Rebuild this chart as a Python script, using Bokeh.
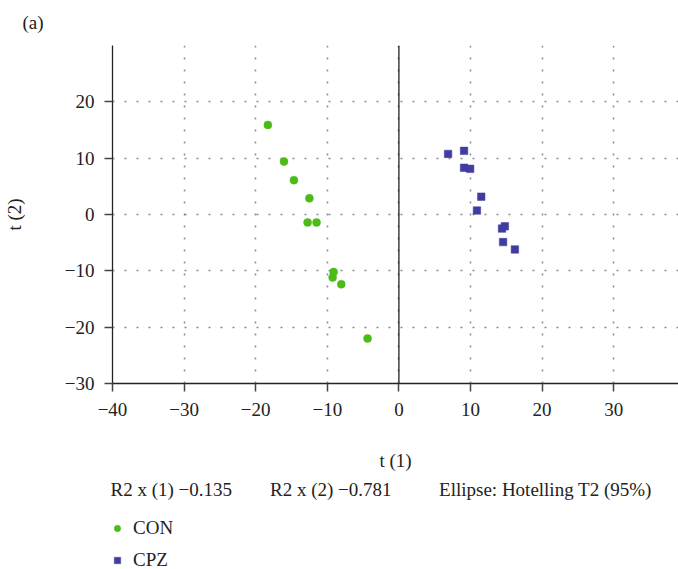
from bokeh.plotting import figure
from bokeh.layouts import column
from bokeh.models import (Range1d, FixedTicker, Span, Title, Legend, LegendItem)
from bokeh.embed import file_html
from bokeh.resources import INLINE

# Data
con_t1 = [-18.3, -16.05, -14.66, -12.5, -12.75, -11.5, -9.12, -9.26, -8.05, -4.38]
con_t2 = [15.9, 9.4, 6.1, 2.87, -1.41, -1.41, -10.2, -11.2, -12.4, -22.0]
cpz_t1 = [6.87, 9.1, 9.1, 9.95, 11.5, 10.9, 14.8, 14.4, 14.55, 16.2]
cpz_t2 = [10.76, 11.3, 8.3, 8.1, 3.17, 0.7, -2.1, -2.5, -4.9, -6.2]
x_ticks = [-40, -30, -20, -10, 0, 10, 20, 30]
y_ticks = [-30, -20, -10, 0, 10, 20]
stats = ["R2 x (1) \u22120.135", "R2 x (2) \u22120.781", "Ellipse: Hotelling T2 (95%)"]
groups = ["CON", "CPZ"]

FONT = "Liberation Serif"
FS = "19px"
GREEN = "#4cbb17"
BLUE = "#403ca0"
TXT = "#222222"

p = figure(width=678, height=515, output_backend="svg", toolbar_location=None,
           x_range=Range1d(-40, 39.05), y_range=Range1d(-30, 30),
           min_border_left=112, min_border_right=0, min_border_top=44,
           min_border_bottom=132)
p.outline_line_color = None
p.background_fill_color = "white"

for ax in (p.xaxis[0], p.yaxis[0]):
    ax.axis_line_color = "#222222"
    ax.axis_line_width = 1.3
    ax.major_tick_line_color = "#444444"
    ax.major_tick_line_width = 1.5
    ax.major_tick_out = 8
    ax.major_tick_in = 0
    ax.minor_tick_line_color = None
    ax.major_label_text_font = FONT
    ax.major_label_text_font_size = FS
    ax.major_label_text_color = TXT
    ax.axis_label_text_font = FONT
    ax.axis_label_text_font_size = FS
    ax.axis_label_text_font_style = "normal"
    ax.axis_label_text_color = TXT

p.xaxis[0].ticker = FixedTicker(ticks=x_ticks)
p.yaxis[0].ticker = FixedTicker(ticks=y_ticks)
p.xaxis[0].major_label_overrides = {t: str(t).replace("-", "\u2212") for t in x_ticks}
p.yaxis[0].major_label_overrides = {t: str(t).replace("-", "\u2212") for t in y_ticks}
p.xaxis[0].axis_label = "t (1)"
p.yaxis[0].axis_label = "t (2)"
p.xaxis[0].major_label_standoff = 11
p.yaxis[0].major_label_standoff = 10
p.xaxis[0].axis_label_standoff = 31
p.yaxis[0].axis_label_standoff = 37

for g in (p.xgrid[0], p.ygrid[0]):
    g.grid_line_color = "#8a8a8a"
    g.grid_line_dash = "2 10"
    g.grid_line_width = 1.5

p.add_layout(Span(location=0, dimension="height", line_color="#222222", line_width=1.3))

p.scatter(con_t1, con_t2, marker="circle", size=8, fill_color=GREEN,
          line_color=GREEN, line_width=0.5)
p.scatter(cpz_t1, cpz_t2, marker="square", size=7.5, fill_color=BLUE,
          line_color=BLUE, line_width=0.5)

# panel label "(a)"
p.add_layout(Title(text="(a)", align="left", offset=-90, standoff=22,
                   vertical_align="top", text_line_height=0.8,
                   text_font=FONT, text_font_size=FS, text_font_style="normal",
                   text_color=TXT), "above")

# statistics line
gap = "\u2002" * 4
stat_text = stats[0] + gap + stats[1] + "\u2002" * 5 + stats[2]
p.add_layout(Title(text=stat_text, align="left", offset=-2, standoff=7,
                   text_font=FONT, text_font_size=FS, text_font_style="normal",
                   text_color=TXT), "below")

# legend strip below the chart (its frame is aligned with the chart frame)
p2 = figure(width=678, height=54, output_backend="svg", toolbar_location=None,
            x_range=Range1d(100, 101), y_range=Range1d(100, 101),
            x_axis_type=None, y_axis_type=None,
            min_border_left=0, min_border_right=0, min_border_top=0, min_border_bottom=0)
p2.outline_line_color = None
p2.xgrid.visible = False
p2.ygrid.visible = False
l_con = p2.scatter(con_t1, con_t2, marker="circle", size=8, fill_color=GREEN,
                   line_color=GREEN, line_width=0.5, visible=False)
l_cpz = p2.scatter(cpz_t1, cpz_t2, marker="square", size=7.5, fill_color=BLUE,
                   line_color=BLUE, line_width=0.5, visible=False)
legend = Legend(items=[LegendItem(label=groups[0], renderers=[l_con]),
                       LegendItem(label=groups[1], renderers=[l_cpz])],
                location=(-3, -2), orientation="vertical",
                glyph_width=16, glyph_height=16, label_height=20,
                label_standoff=8, spacing=10, padding=0, margin=0,
                label_text_font=FONT, label_text_font_size=FS,
                label_text_color=TXT,
                background_fill_alpha=0, border_line_color=None)
p2.add_layout(legend)

layout = column(p, p2, spacing=0)
open("out.html", "w").write(file_html(layout, INLINE))
